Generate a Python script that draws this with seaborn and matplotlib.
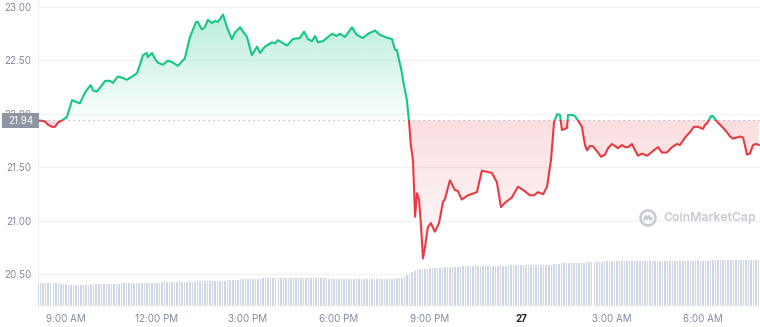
import numpy as np
import matplotlib
matplotlib.use("Agg")
import matplotlib.pyplot as plt
import seaborn as sns
from matplotlib.path import Path
from matplotlib.patches import Rectangle, Circle, PathPatch
from matplotlib.colors import to_rgb

# ---------------- data ----------------
# hour of day (26th; values > 24 are on the 27th)
hours = [8.08, 8.14, 8.31, 8.41, 8.54, 8.64, 8.74, 8.87, 9.03, 9.13, 9.20, 9.36, 9.46, 9.63,
         9.73, 9.82, 9.89, 10.02, 10.19, 10.29, 10.45, 10.55, 10.71, 10.85, 11.01, 11.18,
         11.34, 11.44, 11.54, 11.67, 11.70, 11.84, 11.93, 12.03, 12.20, 12.36, 12.53, 12.69,
         12.92, 13.09, 13.29, 13.35, 13.48, 13.58, 13.68, 13.81, 13.91, 14.01, 14.18, 14.31,
         14.47, 14.57, 14.74, 14.84, 14.97, 15.13, 15.30, 15.40, 15.56, 15.79, 15.89, 15.99,
         16.29, 16.48, 16.71, 16.85, 16.98, 17.11, 17.21, 17.31, 17.47, 17.77, 17.93, 18.03,
         18.20, 18.43, 18.59, 18.79, 18.96, 19.19, 19.35, 19.62, 19.75, 19.85, 19.91, 20.08,
         20.11, 20.24, 20.31, 20.37, 20.44, 20.51, 20.57, 20.64, 20.70, 20.77, 20.84, 20.93,
         21.03, 21.16, 21.30, 21.43, 21.49, 21.66, 21.82, 21.92, 22.05, 22.25, 22.55, 22.71,
         23.04, 23.21, 23.34, 23.47, 23.70, 23.90, 24.07, 24.30, 24.43, 24.56, 24.73, 24.86,
         24.99, 25.09, 25.19, 25.29, 25.35, 25.52, 25.55, 25.71, 25.78, 25.88, 26.01, 26.11,
         26.18, 26.27, 26.37, 26.51, 26.64, 26.77, 26.87, 27.00, 27.10, 27.20, 27.33, 27.43,
         27.53, 27.66, 27.76, 27.86, 27.99, 28.15, 28.25, 28.42, 28.52, 28.65, 28.81, 28.98,
         29.14, 29.24, 29.41, 29.57, 29.70, 29.84, 30.00, 30.07, 30.13, 30.26, 30.33, 30.46,
         30.63, 30.79, 30.89, 30.99, 31.12, 31.22, 31.32, 31.38, 31.45, 31.55, 31.65, 31.75,
         31.85]
prices = [21.93, 21.94, 21.93, 21.90, 21.88, 21.88, 21.92, 21.94, 21.97, 22.06, 22.13, 22.11,
          22.10, 22.20, 22.24, 22.27, 22.22, 22.21, 22.27, 22.31, 22.31, 22.29, 22.35, 22.34,
          22.32, 22.35, 22.38, 22.46, 22.55, 22.57, 22.53, 22.57, 22.52, 22.48, 22.46, 22.50,
          22.48, 22.45, 22.52, 22.72, 22.86, 22.86, 22.79, 22.81, 22.88, 22.85, 22.87, 22.86,
          22.93, 22.81, 22.70, 22.76, 22.81, 22.77, 22.72, 22.55, 22.63, 22.57, 22.63, 22.67,
          22.66, 22.69, 22.64, 22.70, 22.71, 22.77, 22.70, 22.68, 22.73, 22.67, 22.68, 22.75,
          22.73, 22.75, 22.72, 22.81, 22.74, 22.71, 22.75, 22.78, 22.74, 22.71, 22.70, 22.60,
          22.60, 22.38, 22.32, 22.13, 21.93, 21.71, 21.57, 21.04, 21.26, 21.20, 20.98, 20.65,
          20.76, 20.94, 20.98, 20.90, 20.98, 21.18, 21.20, 21.38, 21.29, 21.28, 21.20, 21.24,
          21.27, 21.47, 21.45, 21.36, 21.13, 21.17, 21.22, 21.32, 21.29, 21.24, 21.24, 21.27,
          21.25, 21.32, 21.57, 21.92, 22.00, 21.99, 21.85, 21.87, 21.99, 21.99, 21.98, 21.94,
          21.88, 21.71, 21.66, 21.70, 21.70, 21.65, 21.60, 21.62, 21.68, 21.72, 21.70, 21.68,
          21.71, 21.69, 21.69, 21.72, 21.66, 21.61, 21.63, 21.61, 21.63, 21.67, 21.69, 21.64,
          21.64, 21.69, 21.72, 21.71, 21.78, 21.83, 21.88, 21.88, 21.86, 21.90, 21.91, 21.98,
          21.98, 21.93, 21.88, 21.83, 21.79, 21.77, 21.78, 21.79, 21.78, 21.71, 21.62, 21.63,
          21.71, 21.72, 21.71]
open_price = 21.94

# 5-minute volume bars (relative units), one row per hour starting 08:05
volume = [
    23.0, 23.0, 23.0, 22.8, 22.8, 22.8, 22.8, 22.6, 22.6, 22.5, 22.3, 22.0,
    21.5, 21.3, 21.3, 21.2, 21.2, 21.2, 21.3, 21.4, 21.5, 21.6, 21.7, 21.8,
    22.0, 22.0, 22.1, 22.1, 22.2, 22.2, 22.3, 22.4, 22.5, 22.6, 22.7, 22.8,
    23.0, 23.0, 23.0, 23.1, 23.1, 23.2, 23.2, 23.2, 23.3, 23.3, 23.3, 23.4,
    23.5, 23.6, 23.7, 23.8, 23.9, 24.0, 24.0, 24.1, 24.1, 24.2, 24.2, 24.3,
    24.4, 24.5, 24.5, 24.6, 24.6, 24.7, 24.7, 24.8, 24.8, 24.9, 24.9, 25.0,
    25.2, 25.3, 25.5, 25.7, 25.8, 26.0, 26.2, 26.5, 26.8, 26.9, 27.0, 27.0,
    27.2, 27.3, 27.4, 27.4, 27.5, 27.6, 27.6, 27.6, 27.7, 27.8, 27.8, 27.9,
    27.9, 28.0, 28.0, 28.0, 28.0, 28.0, 27.9, 27.9, 27.9, 27.9, 27.8, 27.8,
    27.8, 27.8, 27.7, 27.7, 27.7, 27.6, 27.6, 27.5, 27.5, 27.5, 27.4, 27.4,
    27.4, 27.3, 27.3, 27.2, 27.2, 27.1, 27.1, 27.0, 27.0, 27.0, 27.0, 27.0,
    27.0, 27.0, 27.0, 26.9, 26.9, 26.9, 26.8, 26.8, 27.0, 27.3, 27.6, 28.0,
    28.5, 29.5, 31.0, 32.5, 33.8, 35.0, 36.0, 36.6, 37.0, 37.3, 37.5, 37.7,
    37.8, 38.0, 38.2, 38.4, 38.6, 38.8, 39.0, 39.1, 39.2, 39.3, 39.4, 39.5,
    39.6, 39.7, 39.8, 39.9, 40.0, 40.0, 40.1, 40.1, 40.2, 40.2, 40.3, 40.3,
    40.3, 40.4, 40.4, 40.4, 40.5, 40.5, 40.5, 40.6, 40.6, 40.6, 40.7, 40.7,
    40.8, 40.8, 40.9, 40.9, 41.0, 41.0, 41.0, 41.1, 41.1, 41.2, 41.2, 41.3,
    42.0, 42.3, 42.5, 42.6, 42.7, 42.8, 42.8, 42.9, 43.0, 43.0, 43.1, 43.2,
    43.5, 43.7, 43.9, 44.0, 44.2, 44.3, 44.4, 44.5, 44.6, 44.7, 44.8, 44.9,
    45.0, 45.1, 45.1, 45.2, 45.2, 45.3, 45.3, 45.3, 45.3, 45.4, 45.4, 45.4,
    45.3, 45.3, 45.2, 45.2, 45.2, 45.3, 45.3, 45.3, 45.4, 45.4, 45.4, 45.4,
    45.4, 45.3, 45.3, 45.3, 45.4, 45.4, 45.5, 45.5, 45.6, 45.6, 45.5, 45.5,
    45.5, 45.5, 45.6, 45.6, 45.6, 45.7, 45.7, 45.7, 45.8, 45.8, 45.8, 45.9,
    45.9, 45.9, 46.0, 46.0, 46.0, 46.0, 46.1, 46.1, 46.1, 46.2, 46.2, 46.2,
]

y_ticks = [20.50, 21.00, 21.50, 22.00, 22.50, 23.00]
y_tick_labels = ["20.50", "21.00", "21.50", "22.00", "22.50", "23.00"]
x_ticks = [9, 12, 15, 18, 21, 24, 27, 30]
x_tick_labels = ["9:00 AM", "12:00 PM", "3:00 PM", "6:00 PM", "9:00 PM", "27",
                 "3:00 AM", "6:00 AM"]

# ---------------- style ----------------
GREEN = "#16c784"
RED = "#ea3943"
TXT = "#808a9d"
GRID = "#eff2f5"
VOL = "#cfd6e4"

sns.set_theme(style="white")
plt.rcParams["font.family"] = ["Inter", "DejaVu Sans"]

W, H = 760, 327
fig = plt.figure(figsize=(W / 100, H / 100), dpi=100)
L, R, T, B = 38, 760, 2, 306
ax = fig.add_axes([L / W, 1 - B / H, (R - L) / W, (B - T) / H])

xmin, xmax = 8.08, 31.88
ymin, ymax = 20.2056, 23.0467

t = np.array(hours)
p = np.array(prices)


def gradient_fill(where, color, y0, y1, a_bottom, a_top):
    coll = ax.fill_between(t, p, open_price, where=where, interpolate=True,
                           facecolor="none", edgecolor="none")
    path = Path.make_compound_path(*coll.get_paths())
    n = 256
    img = np.zeros((n, 1, 4))
    img[..., :3] = to_rgb(color)
    img[:, 0, 3] = np.linspace(a_top, a_bottom, n)
    im = ax.imshow(img, extent=[xmin, xmax, y0, y1], origin="upper",
                   aspect="auto", zorder=1, interpolation="bilinear")
    im.set_clip_path(path, transform=ax.transData)


gradient_fill(p >= open_price, GREEN, open_price, p.max(), 0.02, 0.30)
gradient_fill(p <= open_price, RED, p.min(), open_price, 0.02, 0.17)

# price line, green above open, red below
sns.lineplot(x=t, y=p, ax=ax, color=GREEN, lw=1.5, estimator=None, sort=False, zorder=3)
sns.lineplot(x=t, y=p, ax=ax, color=RED, lw=1.5, estimator=None, sort=False, zorder=3)
lines = ax.get_lines()
lines[-2].set_clip_path(Rectangle((xmin - 5, open_price), 50, 10, transform=ax.transData))
lines[-1].set_clip_path(Rectangle((xmin - 5, open_price - 10), 50, 10, transform=ax.transData))

ax.axhline(open_price, color="#a6b0c3", lw=0.9, ls=(0, (1, 3)), zorder=2)

ax.set_xlim(xmin, xmax)
ax.set_ylim(ymin, ymax)
ax.set_yticks(y_ticks)
ax.set_yticklabels(y_tick_labels)
ax.set_xticks(x_ticks)
ax.set_xticklabels(x_tick_labels)
ax.grid(axis="y", color=GRID, lw=0.8)
ax.grid(axis="x", visible=False)
ax.set_axisbelow(True)
for s in ["top", "right", "bottom"]:
    ax.spines[s].set_visible(False)
ax.spines["left"].set_color(GRID)
ax.spines["left"].set_linewidth(0.8)
ax.tick_params(axis="y", length=0, pad=5, labelsize=7, labelcolor=TXT)
ax.tick_params(axis="x", length=3, width=0.8, color=VOL, pad=3, labelsize=7,
               labelcolor=TXT)
for lab in ax.get_xticklabels():
    if lab.get_text() == "27":
        lab.set_fontweight("bold")
        lab.set_color("#222531")
ax.set_xlabel("")
ax.set_ylabel("")

# volume bars on a hidden twin axis
ax2 = ax.twinx()
t_bars = 8 + 5 / 60 + np.arange(len(volume)) * 5 / 60
sns.barplot(x=t_bars, y=volume, ax=ax2, native_scale=True, color=VOL, width=0.6,
            errorbar=None, saturation=1, linewidth=0)
ax2.set_ylim(0, B - T)
ax2.set_xlim(xmin, xmax)
ax2.set_yticks([])
ax2.set_ylabel("")
ax2.set_xlabel("")
for s in ax2.spines.values():
    s.set_visible(False)
ax.set_xlim(xmin, xmax)

# current price tag
fig.add_artist(Rectangle((2 / 100, (H - 128) / 100), 37 / 100, 15 / 100,
                         transform=fig.dpi_scale_trans, facecolor="#8f96a3",
                         edgecolor="none", zorder=5))
fig.text(20.5 / W, 1 - 120.5 / H, "21.94", color="white", fontsize=7,
         ha="center", va="center", zorder=6)

# watermark
WM = "#c5cad3"
cx, cy = 6.48, (H - 218) / 100
fig.add_artist(Circle((cx, cy), 0.075, transform=fig.dpi_scale_trans,
                      facecolor="none", edgecolor=WM, lw=1.8, zorder=4))
m_path = Path([(cx - 0.04, cy - 0.025), (cx - 0.025, cy + 0.025), (cx - 0.008, cy - 0.015),
               (cx + 0.01, cy + 0.025), (cx + 0.025, cy - 0.015), (cx + 0.045, cy + 0.0)])
fig.add_artist(PathPatch(m_path, transform=fig.dpi_scale_trans, facecolor="none",
                         edgecolor=WM, lw=1.5, zorder=4))
fig.text(663 / W, 1 - 218 / H, "CoinMarketCap", color=WM, fontsize=8.8,
         fontweight="semibold", ha="left", va="center", zorder=4)

fig.savefig("out.png", dpi=100)
